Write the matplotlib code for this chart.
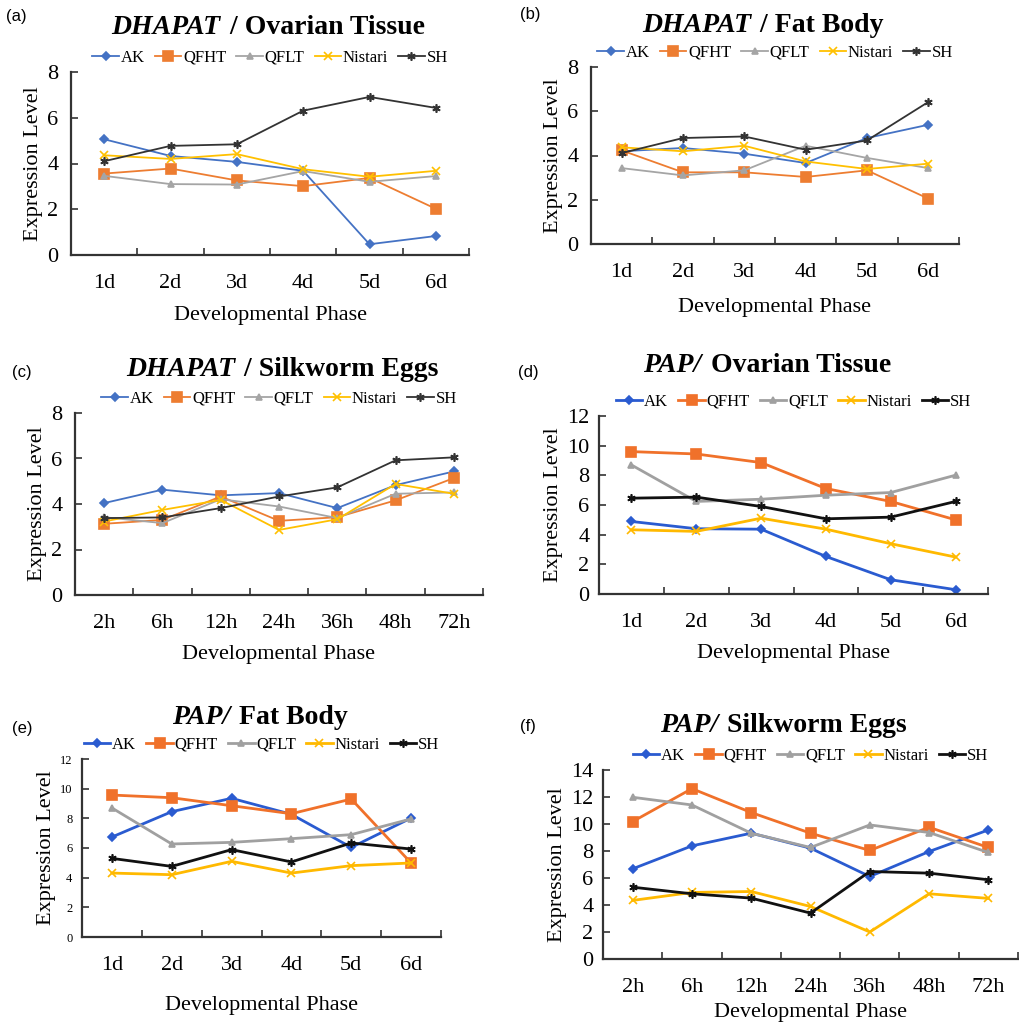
import matplotlib.pyplot as plt
import numpy as np

## values
days = ['1d', '2d', '3d', '4d', '5d', '6d']
hours = ['2h', '6h', '12h', '24h', '36h', '48h', '72h']
strains = ['AK', 'QFHT', 'QFLT', 'Nistari', 'SH']

a_ak = [5.06, 4.33, 4.07, 3.68, 0.47, 0.83]
a_qfht = [3.56, 3.78, 3.26, 3.01, 3.37, 2.02]
a_qflt = [3.46, 3.10, 3.08, 3.67, 3.20, 3.45]
a_nistari = [4.36, 4.20, 4.41, 3.75, 3.42, 3.68]
a_sh = [4.10, 4.77, 4.84, 6.31, 6.91, 6.43]

b_ak = [4.19, 4.34, 4.08, 3.66, 4.79, 5.39]
b_qfht = [4.23, 3.24, 3.24, 3.03, 3.33, 2.05]
b_qflt = [3.43, 3.10, 3.33, 4.44, 3.89, 3.43]
b_nistari = [4.37, 4.19, 4.44, 3.73, 3.39, 3.63]
b_sh = [4.11, 4.79, 4.86, 4.26, 4.68, 6.42]

c_ak = [4.04, 4.63, 4.38, 4.48, 3.82, 4.83, 5.43]
c_qfht = [3.13, 3.30, 4.33, 3.26, 3.42, 4.16, 5.14]
c_qflt = [3.42, 3.16, 4.21, 3.89, 3.38, 4.45, 4.51]
c_nistari = [3.23, 3.74, 4.18, 2.86, 3.33, 4.88, 4.45]
c_sh = [3.38, 3.41, 3.82, 4.33, 4.73, 5.92, 6.05]

d_ak = [4.89, 4.40, 4.37, 2.53, 0.96, 0.29]
d_qfht = [9.60, 9.44, 8.86, 7.11, 6.24, 5.00]
d_qflt = [8.70, 6.24, 6.39, 6.66, 6.84, 8.01]
d_nistari = [4.33, 4.22, 5.11, 4.37, 3.39, 2.49]
d_sh = [6.46, 6.53, 5.90, 5.07, 5.18, 6.24]

e_ak = [6.74, 8.45, 9.35, 8.27, 6.04, 8.02]
e_qfht = [9.57, 9.39, 8.85, 8.31, 9.30, 4.99]
e_qflt = [8.70, 6.27, 6.38, 6.63, 6.90, 7.96]
e_nistari = [4.31, 4.20, 5.10, 4.31, 4.81, 4.99]
e_sh = [5.30, 4.76, 5.89, 5.06, 6.34, 5.93]

f_ak = [6.68, 8.38, 9.32, 8.21, 6.11, 7.96, 9.56]
f_qfht = [10.18, 12.62, 10.85, 9.32, 8.04, 9.76, 8.26]
f_qflt = [11.98, 11.41, 9.32, 8.26, 9.93, 9.37, 7.89]
f_nistari = [4.34, 4.93, 5.00, 3.89, 2.00, 4.83, 4.49]
f_sh = [5.32, 4.83, 4.51, 3.40, 6.48, 6.36, 5.87]

W, H = 1019, 1027
plt.rcParams['font.family'] = ['Liberation Serif', 'DejaVu Serif']

fig = plt.figure(figsize=(W / 100, H / 100), dpi=100)
renderer = fig.canvas.get_renderer()


def box(left, right, top, bottom):
    return [left / W, 1 - bottom / H, (right - left) / W, (bottom - top) / H]


# label, gene, tissue, categories, series, ymax, axes box, bold lines,
# title centre (px), label pos (px), xlabel pad
panels = [
    ('(a)', 'DHAPAT', ' / Ovarian Tissue', days, [a_ak, a_qfht, a_qflt, a_nistari, a_sh], 8,
     box(71, 469, 72, 255), False, (267, 27), (6, 16), 9),
    ('(b)', 'DHAPAT', ' / Fat Body', days, [b_ak, b_qfht, b_qflt, b_nistari, b_sh], 8,
     box(591, 959, 67, 244), False, (762, 25), (520, 14), 11),
    ('(c)', 'DHAPAT', ' / Silkworm Eggs', hours, [c_ak, c_qfht, c_qflt, c_nistari, c_sh], 8,
     box(75, 483, 413, 595), False, (281, 370), (12, 373), 8),
    ('(d)', 'PAP/', ' Ovarian Tissue', days, [d_ak, d_qfht, d_qflt, d_nistari, d_sh], 12,
     box(599, 988, 416, 594), True, (766, 366), (518, 372), 8),
    ('(e)', 'PAP/', ' Fat Body', days, [e_ak, e_qfht, e_qflt, e_nistari, e_sh], 12,
     box(82, 441, 759, 937), True, (259, 718), (12, 728), 15),
    ('(f)', 'PAP/', ' Silkworm Eggs', hours, [f_ak, f_qfht, f_qflt, f_nistari, f_sh], 14,
     box(603, 1018, 770, 959), True, (782, 725), (520, 726), 4),
]

styles_light = ['#4472C4', '#ED7D31', '#A5A5A5', '#FFC000', '#333333']
styles_dark = ['#2A5BD0', '#F0712A', '#A0A0A0', '#FFB900', '#111111']
markers = ['D', 's', '^', 'x', (6, 2, 0)]
msizes = [4, 7, 5, 6, 6]

for label, gene, rest, cats, series, ymax, pos, bold, tpos, lpos, xpad in panels:
    ax = fig.add_axes(pos)
    x = np.arange(len(cats))
    cols = styles_dark if bold else styles_light
    lw = 2.0 if bold else 1.3
    for name, vals, c, m, ms in zip(strains, series, cols, markers, msizes):
        ax.plot(x, vals, color=c, marker=m, markersize=ms, linewidth=lw,
                markeredgewidth=1.2, label=name)
    ax.set_xlim(-0.5, len(cats) - 0.5)
    ax.set_ylim(0, ymax)
    ax.set_yticks(np.arange(0, ymax + 1, 2))
    ax.set_xticks(x)
    ax.set_xticklabels(cats)
    ax.set_xticks(np.arange(len(cats) + 1) - 0.5, minor=True)
    ax.tick_params(axis='x', which='major', length=0, pad=14, labelsize=16)
    ax.tick_params(axis='x', which='minor', direction='in', length=5, width=1.2, color='#333333')
    ysize = 9 if label == '(e)' else 16
    ypad = 9 if label in ('(a)', '(b)', '(c)') else 7
    ax.tick_params(axis='y', direction='in', length=5, width=1.2, color='#333333',
                   labelsize=ysize, pad=ypad)
    for s in ['top', 'right']:
        ax.spines[s].set_visible(False)
    for s in ['left', 'bottom']:
        ax.spines[s].set_linewidth(1.6)
        ax.spines[s].set_color('#333333')
    ax.set_xlabel('Developmental Phase', fontsize=16, labelpad=xpad)
    ax.set_ylabel('Expression Level', fontsize=16, labelpad=3)
    ax.legend(loc='lower center', bbox_to_anchor=(0.5, 0.98), ncol=5, frameon=False,
              fontsize=12, handlelength=1.6, handletextpad=0.1, columnspacing=0.6,
              borderaxespad=0.2)

    # title: italic gene name followed by the bold tissue name, centred together
    cx, cy = tpos
    t1 = fig.text(0, 1 - cy / H, gene, fontsize=20, fontweight='bold', fontstyle='italic',
                  ha='left', va='center')
    t2 = fig.text(0, 1 - cy / H, rest, fontsize=20, fontweight='bold', ha='left', va='center')
    w1 = t1.get_window_extent(renderer).width
    w2 = t2.get_window_extent(renderer).width
    x0 = cx - (w1 + w2) / 2
    t1.set_x(x0 / W)
    t2.set_x((x0 + w1 + 2) / W)

    fig.text(lpos[0] / W, 1 - lpos[1] / H, label, fontsize=12, family='Liberation Sans',
             ha='left', va='center')

fig.savefig('out.png', dpi=100)
